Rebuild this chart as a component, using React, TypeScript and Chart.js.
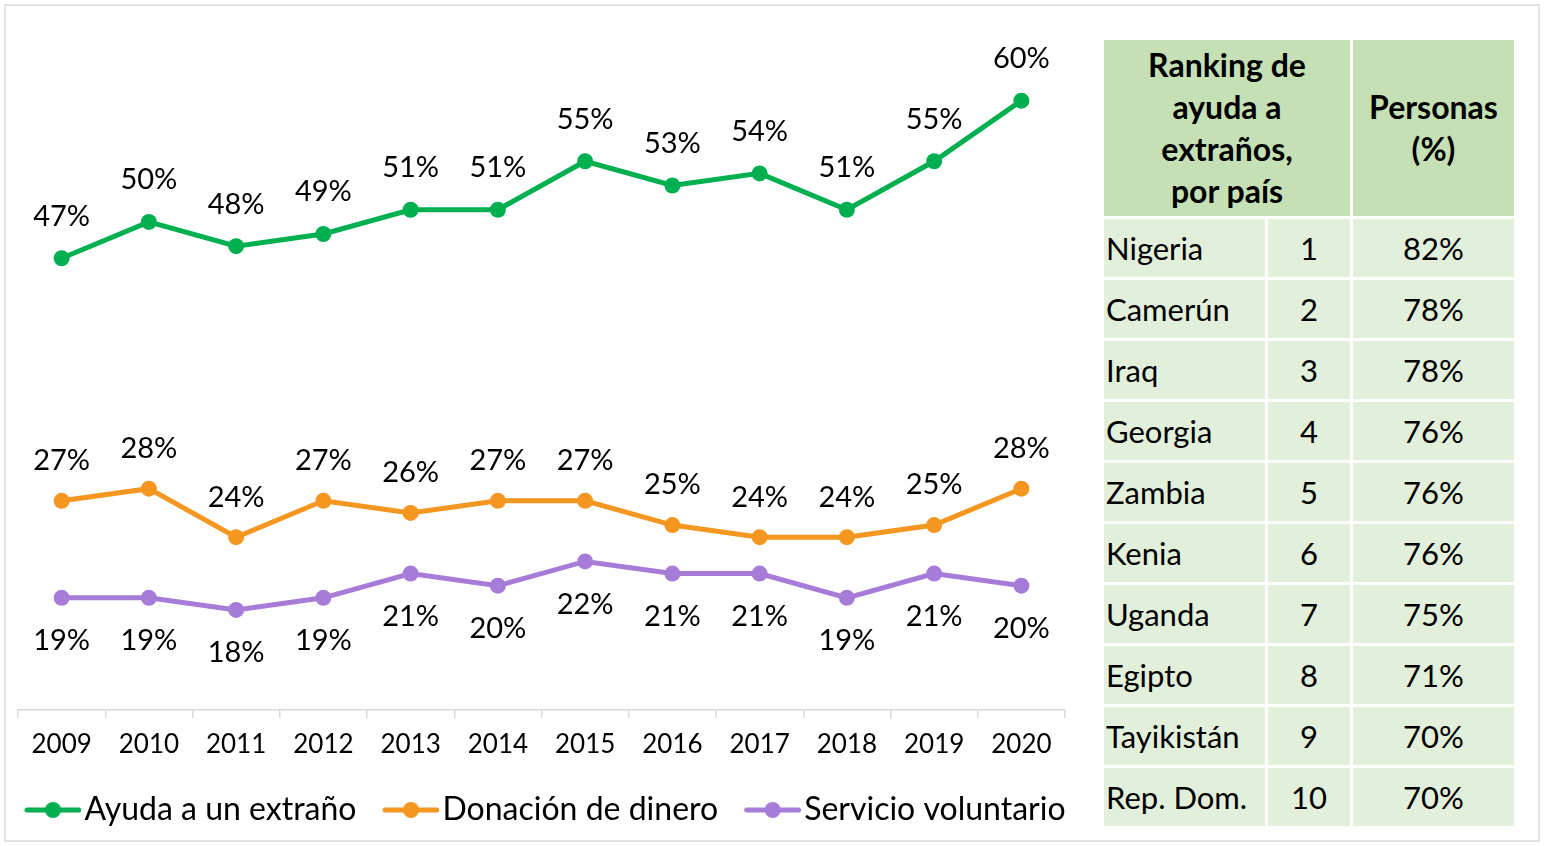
import React, { useEffect, useRef } from "react";
import { Chart, registerables } from "chart.js";

Chart.register(...registerables);

const years = ["2009", "2010", "2011", "2012", "2013", "2014", "2015", "2016", "2017", "2018", "2019", "2020"];
const ayudaExtrano = [47, 50, 48, 49, 51, 51, 55, 53, 54, 51, 55, 60];
const donacionDinero = [27, 28, 24, 27, 26, 27, 27, 25, 24, 24, 25, 28];
const servicioVoluntario = [19, 19, 18, 19, 21, 20, 22, 21, 21, 19, 21, 20];
const seriesLabels = ["Ayuda a un extraño", "Donación de dinero", "Servicio voluntario"];
const seriesColors = ["#00B050", "#F4961F", "#A77CD9"];
const labelOffsets = [-42, -40, 43];

const headerRanking = ["Ranking de", "ayuda a", "extraños,", "por país"];
const headerPersonas = ["Personas", "(%)"];
const countries = ["Nigeria", "Camerún", "Iraq", "Georgia", "Zambia", "Kenia", "Uganda", "Egipto", "Tayikistán", "Rep. Dom."];
const ranks = [1, 2, 3, 4, 5, 6, 7, 8, 9, 10];
const personas = [82, 78, 78, 76, 76, 76, 75, 71, 70, 70];

const FONT = "Lato, 'Open Sans', sans-serif";

function makeLegendIcon(color: string): HTMLCanvasElement {
  const c = document.createElement("canvas");
  c.width = 86;
  c.height = 18;
  const g = c.getContext("2d")!;
  g.strokeStyle = color;
  g.lineWidth = 5;
  g.lineCap = "round";
  g.beginPath();
  g.moveTo(31.5, 9);
  g.lineTo(83.5, 9);
  g.stroke();
  g.fillStyle = color;
  g.beginPath();
  g.arc(57.5, 9, 8, 0, Math.PI * 2);
  g.fill();
  return c;
}

const dataLabelPlugin = {
  id: "dataLabels",
  afterDatasetsDraw(chart: any) {
    const ctx = chart.ctx;
    ctx.save();
    ctx.font = `29px ${FONT}`;
    ctx.fillStyle = "#000";
    ctx.textAlign = "center";
    ctx.textBaseline = "middle";
    chart.data.datasets.forEach((ds: any, i: number) => {
      const meta = chart.getDatasetMeta(i);
      meta.data.forEach((pt: any, j: number) => {
        ctx.fillText(`${ds.data[j]}%`, pt.x, pt.y + labelOffsets[i]);
      });
    });
    ctx.restore();
  },
};

const legendShiftPlugin = {
  id: "legendShift",
  afterLayout(chart: any) {
    if (chart.legend) chart.legend.left -= 16;
  },
};

function LineChart() {
  const ref = useRef<HTMLCanvasElement | null>(null);
  useEffect(() => {
    if (!ref.current) return;
    Chart.defaults.font.family = FONT;
    const icons = seriesColors.map(makeLegendIcon);
    const seriesData = [ayudaExtrano, donacionDinero, servicioVoluntario];
    const chart = new Chart(ref.current, {
      type: "line",
      data: {
        labels: years,
        datasets: seriesData.map((d, i) => ({
          label: seriesLabels[i],
          data: d,
          borderColor: seriesColors[i],
          backgroundColor: seriesColors[i],
          borderWidth: 5,
          pointRadius: 8,
          pointBorderWidth: 0,
          pointBackgroundColor: seriesColors[i],
          tension: 0,
          clip: false as any,
        })),
      },
      options: {
        animation: false,
        responsive: false,
        devicePixelRatio: 1,
        layout: { padding: { top: 40, bottom: 10, left: 0, right: 0 } },
        plugins: {
          legend: {
            position: "bottom",
            labels: {
              usePointStyle: true,
              pointStyleWidth: 60,
              padding: 10,
              color: "#000",
              font: { size: 32, family: FONT },
              generateLabels: (ch: any) =>
                ch.data.datasets.map((ds: any, i: number) => ({
                  text: ds.label,
                  fillStyle: ds.borderColor,
                  strokeStyle: ds.borderColor,
                  lineWidth: 0,
                  pointStyle: icons[i],
                  hidden: false,
                  datasetIndex: i,
                  fontColor: "#000",
                })),
            },
          },
          tooltip: { enabled: false },
        },
        scales: {
          x: {
            offset: true,
            grid: { offset: true, drawOnChartArea: false, drawTicks: true, tickLength: 8, color: "#D9D9D9", lineWidth: 1.5 },
            border: { color: "#D9D9D9", width: 1.5 },
            ticks: { color: "#000", padding: 11, font: { size: 26, family: FONT } },
            afterFit: (s: any) => {
              s.height = 74;
            },
          },
          y: {
            min: 9.75,
            max: 65,
            display: true,
            ticks: { display: false },
            grid: { display: false },
            border: { display: false },
            afterFit: (s: any) => {
              s.width = 18;
            },
          },
          y2: {
            position: "right",
            display: true,
            ticks: { display: false },
            grid: { display: false },
            border: { display: false },
            afterFit: (s: any) => {
              s.width = 25;
            },
          },
        },
      } as any,
      plugins: [dataLabelPlugin, legendShiftPlugin],
    });
    return () => chart.destroy();
  }, []);
  return <canvas ref={ref} width={1090} height={846} style={{ display: "block", width: 1090, height: 846 }} />;
}

const headerBg = "#C5E0B4";
const bodyBg = "#E2EFDA";

function RankingTable() {
  const cellBase: React.CSSProperties = { padding: 0, fontSize: 31, fontFamily: FONT, color: "#000", background: bodyBg, height: 58, verticalAlign: "middle" };
  const headBase: React.CSSProperties = { background: headerBg, height: 176, padding: 0, fontSize: 32, fontFamily: FONT, fontWeight: 700, lineHeight: "42px", textAlign: "center", verticalAlign: "middle", color: "#000" };
  return (
    <table
      style={{
        position: "absolute",
        left: 1101,
        top: 37,
        borderCollapse: "separate",
        borderSpacing: 3,
        tableLayout: "fixed",
        width: 416,
      }}
    >
      <colgroup>
        <col style={{ width: 161 }} />
        <col style={{ width: 82 }} />
        <col style={{ width: 161 }} />
      </colgroup>
      <thead>
        <tr>
          <th colSpan={2} style={headBase}>
            {headerRanking.map((l, i) => (
              <div key={i}>{l}</div>
            ))}
          </th>
          <th style={headBase}>
            {headerPersonas.map((l, i) => (
              <div key={i}>{l}</div>
            ))}
          </th>
        </tr>
      </thead>
      <tbody>
        {countries.map((c, i) => (
          <tr key={c}>
            <td style={{ ...cellBase, textAlign: "left", paddingLeft: 2 }}>{c}</td>
            <td style={{ ...cellBase, textAlign: "center" }}>{ranks[i]}</td>
            <td style={{ ...cellBase, textAlign: "center" }}>{personas[i]}%</td>
          </tr>
        ))}
      </tbody>
    </table>
  );
}

export default function App() {
  return (
    <div style={{ position: "absolute", left: 0, top: 0, width: 1544, height: 846, background: "#fff", overflow: "hidden" }}>
      <div style={{ position: "absolute", left: 4, top: 4, width: 1536, height: 838, border: "2px solid #E6E1E1", boxSizing: "border-box" }} />
      <div style={{ position: "absolute", left: 0, top: 0 }}>
        <LineChart />
      </div>
      <RankingTable />
    </div>
  );
}
